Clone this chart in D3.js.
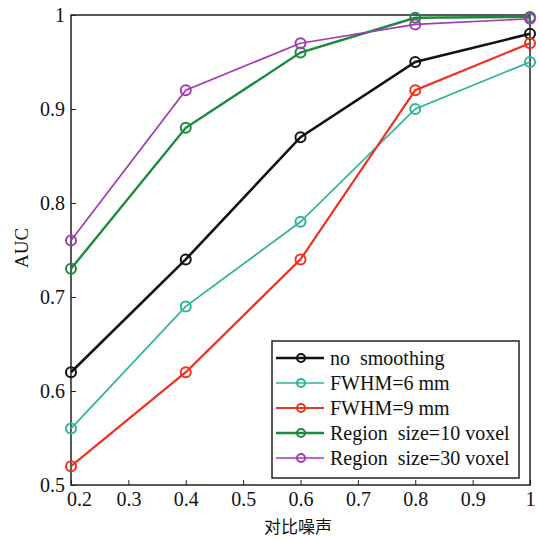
<!DOCTYPE html>
<html>
<head>
<meta charset="utf-8">
<script src="https://cdn.jsdelivr.net/npm/d3@7"></script>
<style>
  body { margin: 0; background: #fff; }
  svg text { font-family: "Liberation Serif", "DejaVu Serif", serif; }
</style>
</head>
<body>
<svg width="539" height="539"></svg>
<script>
var svg = d3.select("svg");

// data
var xValues = [0.2, 0.4, 0.6, 0.8, 1.0];
var noSmoothing = [0.62, 0.74, 0.87, 0.95, 0.98];
var fwhm6 = [0.56, 0.69, 0.78, 0.90, 0.95];
var fwhm9 = [0.52, 0.62, 0.74, 0.92, 0.97];
var region10 = [0.73, 0.88, 0.96, 0.997, 0.998];
var region30 = [0.76, 0.92, 0.97, 0.99, 0.996];
var seriesNames = ["no  smoothing", "FWHM=6 mm", "FWHM=9 mm", "Region  size=10 voxel", "Region  size=30 voxel"];
var xTicks = [0.2, 0.3, 0.4, 0.5, 0.6, 0.7, 0.8, 0.9, 1];
var yTicks = [0.5, 0.6, 0.7, 0.8, 0.9, 1];

var series = [
    { name: seriesNames[0], values: noSmoothing, color: "#111111", width: 2.6 },
    { name: seriesNames[1], values: fwhm6, color: "#2fb39a", width: 1.7 },
    { name: seriesNames[2], values: fwhm9, color: "#f2301e", width: 2.2 },
    { name: seriesNames[3], values: region10, color: "#1b8a3c", width: 2.4 },
    { name: seriesNames[4], values: region30, color: "#a23ab5", width: 1.7 }
];

var plot = { left: 71, right: 530, top: 15, bottom: 485 };

var x = d3.scaleLinear().domain([0.2, 1]).range([plot.left, plot.right]);
var y = d3.scaleLinear().domain([0.5, 1]).range([plot.bottom, plot.top]);

var fmt = function (d) { return d === 1 ? "1" : d3.format(".1f")(d); };

// axes (ticks pointing inward)
svg.append("g")
    .attr("transform", "translate(0," + plot.bottom + ")")
    .call(d3.axisBottom(x).tickValues(xTicks).tickSize(-5).tickPadding(7).tickFormat(fmt))
    .call(function (g) {
        g.select(".domain").remove();
        g.selectAll("text").attr("font-size", 20).attr("fill", "#111");
        // first label sits a bit to the right, clear of the 0.5 label
        g.selectAll("text").filter(function (d) { return d === 0.2; }).attr("dx", 8);
        g.selectAll("line").attr("stroke", "#222");
    });

svg.append("g")
    .attr("transform", "translate(" + plot.left + ",0)")
    .call(d3.axisLeft(y).tickValues(yTicks).tickSize(-5).tickPadding(6).tickFormat(fmt))
    .call(function (g) {
        g.select(".domain").remove();
        g.selectAll("text").attr("font-size", 20).attr("fill", "#111");
        g.selectAll("line").attr("stroke", "#222");
    });

// frame
svg.append("rect")
    .attr("x", plot.left)
    .attr("y", plot.top)
    .attr("width", plot.right - plot.left)
    .attr("height", plot.bottom - plot.top)
    .attr("fill", "none")
    .attr("stroke", "#222")
    .attr("stroke-width", 1.5);

// axis labels
svg.append("text")
    .attr("transform", "translate(28,248) rotate(-90)")
    .attr("text-anchor", "middle")
    .attr("font-size", 19)
    .attr("fill", "#111")
    .text("AUC");

svg.append("text")
    .attr("x", 298)
    .attr("y", 533)
    .attr("text-anchor", "middle")
    .attr("font-size", 17)
    .attr("fill", "#111")
    .style("font-family", "'Noto Sans CJK SC', sans-serif")
    .text("对比噪声");

// lines and markers
var line = d3.line()
    .x(function (d, i) { return x(xValues[i]); })
    .y(function (d) { return y(d); });

var groups = svg.selectAll("g.series")
    .data(series)
    .enter().append("g")
    .attr("class", "series");

groups.append("path")
    .attr("d", function (d) { return line(d.values); })
    .attr("fill", "none")
    .attr("stroke", function (d) { return d.color; })
    .attr("stroke-width", function (d) { return d.width; });

groups.selectAll("circle")
    .data(function (d) { return d.values.map(function (v, i) { return { v: v, i: i, s: d }; }); })
    .enter().append("circle")
    .attr("cx", function (d) { return x(xValues[d.i]); })
    .attr("cy", function (d) { return y(d.v); })
    .attr("r", 5)
    .attr("fill", "none")
    .attr("stroke", function (d) { return d.s.color; })
    .attr("stroke-width", 2);

// legend
var legend = svg.append("g").attr("transform", "translate(272,341)");

legend.append("rect")
    .attr("width", 247)
    .attr("height", 137)
    .attr("fill", "#fff")
    .attr("stroke", "#222")
    .attr("stroke-width", 1.5);

var rows = legend.selectAll("g.row")
    .data(series)
    .enter().append("g")
    .attr("class", "row")
    .attr("transform", function (d, i) { return "translate(0," + (17 + i * 25) + ")"; });

rows.append("line")
    .attr("x1", 4).attr("x2", 52)
    .attr("stroke", function (d) { return d.color; })
    .attr("stroke-width", function (d) { return d.width; });

rows.append("circle")
    .attr("cx", 29)
    .attr("r", 4)
    .attr("fill", "none")
    .attr("stroke", function (d) { return d.color; })
    .attr("stroke-width", 2);

rows.append("text")
    .attr("x", 58)
    .attr("y", 7)
    .attr("font-size", 20)
    .attr("fill", "#111")
    .style("white-space", "pre")
    .text(function (d) { return d.name; });
</script>
</body>
</html>
